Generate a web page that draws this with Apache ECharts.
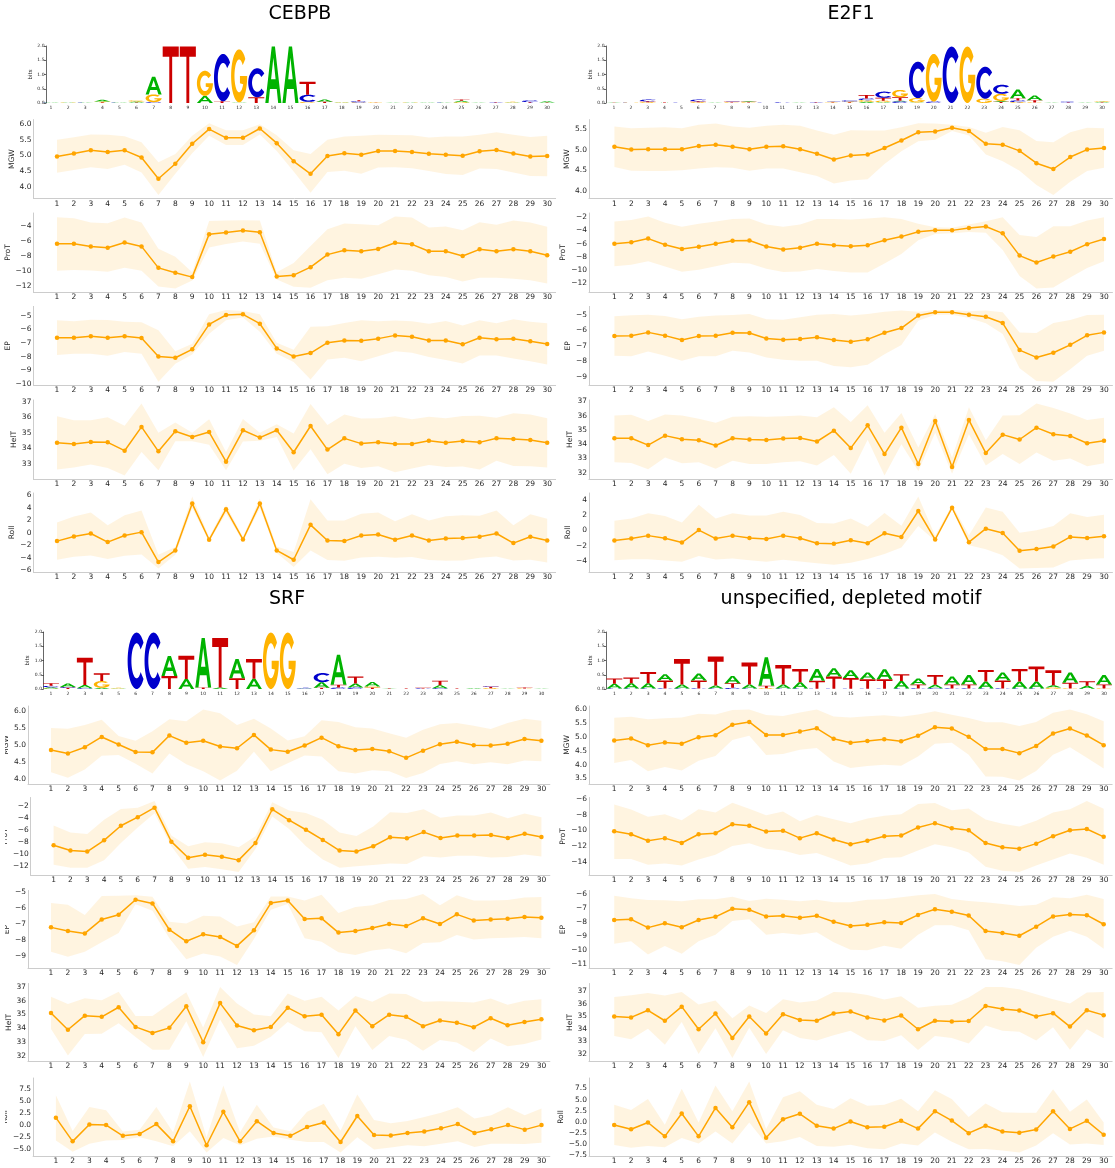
<!DOCTYPE html>
<html>
<head>
<meta charset="utf-8">
<script src="https://cdn.jsdelivr.net/npm/echarts@6/dist/echarts.min.js"></script>
<style>html,body{margin:0;padding:0;background:#fff}#chart{width:1115px;height:1168px}</style>
</head>
<body>
<div id="chart"></div>
<script>
// Positions along the 30-bp window
const POS = [1,2,3,4,5,6,7,8,9,10,11,12,13,14,15,16,17,18,19,20,21,22,23,24,25,26,27,28,29,30];
const FEATURES = ['MGW', 'ProT', 'EP', 'HelT', 'Roll'];
const MOTIFS = ['CEBPB', 'E2F1', 'SRF', 'unspecified, depleted motif'];
const LOGO_TICKS = [0, 0.5, 1, 1.5, 2];

// Sequence logos: per position, letters stacked bottom -> top as <letter><bits>
const LOGO_CEBPB = ['C.01 A.02','A.01 G.01','A.01 C.01','T.03 G.02 A.06','C.01 A.02','T.02 A.03 G.04','C.03 G.27 A.62','T1.98','T1.98','A.25 G.88','T.06 C1.66','A.02 G1.86','T.2 C1.02','A1.98','A1.98','G.04 C.25 T.46','T.04 A.08','A.02 G.01','G.02 C.04 T.04','T.01 G.02','A.01','A.01 G.01','A.02','A.01 C.01','G.03 A.05 T.04','A.01','T.02 C.01','A.02 G.02','T.03 C.06','T.02 A.04'];
const LOGO_E2F1 = ['A.01 T.01','C.01 G.01','G.03 T.03 C.06','T.02 A.01','C.01','G.03 T.03 C.06','A.01','G.02 T.02 C.01','G.02 T.02 A.02','C.01','C.02','A.01','T.02 C.01','T.02 G.02 C.01','T.03 G.02 C.04','A.04 G.06 C.06 T.12','A.03 G.05 T.10 C.22','C.06 A.02 T.12 G.26','A.02 G.15 C1.28','C.05 G1.67','C1.98','G1.98','G.15 C1.12','T.04 A.03 G.25 C.32','G.03 C.06 T.08 A.30','G.02 T.08 A.16','A.01','T.02 C.03','A.01','T.02 A.02 G.02'];
const LOGO_SRF = ['G.02 A.04 C.05 T.09','T.04 C.03 A.12','C.03 A.11 T.96','A.04 G.24 T.27','A.02 G.02','C1.98','C1.98','T.46 A.70','A.35 T.82','T.05 A1.74','A.05 T1.74','T.38 A.67','A.36 T.69','G1.98','G1.98','A.02 C.02','T.04 A.20 C.32','C.05 T.10 A1.05','C.05 A.14 T.25','T.05 G.04 A.16','A.01 T.02','T.02','C.02 T.02','C.03 A.10 T.16','T.02','A.03','G.03 T.05 C.02','A.01','G.02 T.03','A.01'];
const LOGO_UNSPEC = ['C.02 A.16 T.19','C.02 A.18 T.20','C.02 A.18 T.40','C.02 T.28 A.22','C.02 A.14 T.89','C.02 T.28 A.24','C.02 A.10 T1.02','C.04 T.16 A.26','C.02 A.14 T.77','G.03 T.08 A1.00','C.02 A.14 T.68','C.02 A.22 T.46','C.01 T.28 A.41','C.01 T.43 A.29','C.01 T.38 A.27','C.01 T.33 A.24','C.01 T.33 A.35','C.02 A.26 T.24','C.02 T.14 A.21','C.03 A.12 T.34','C.02 T.14 A.28','C.02 T.14 A.33','C.02 A.24 T.41','C.02 T.28 A.28','C.02 A.24 T.44','C.02 A.24 T.53','G.05 A.08 T.53','G.02 T.20 A.36','C.01 A.10 T.16','G.02 T.14 A.33'];

// ---- CEBPB shape profiles: mean, upper and lower band ----
const CEBPB_MGW = [4.96,5.06,5.16,5.11,5.16,4.93,4.25,4.73,5.37,5.84,5.56,5.56,5.86,5.39,4.81,4.41,4.98,5.07,5.02,5.14,5.14,5.11,5.05,5.02,4.99,5.13,5.17,5.06,4.96,4.98];
const CEBPB_MGW_HI = [5.50,5.58,5.67,5.66,5.61,5.42,4.78,5.04,5.63,6.03,5.80,5.80,6.00,5.64,5.16,5.04,5.50,5.60,5.63,5.66,5.65,5.64,5.57,5.60,5.60,5.66,5.74,5.66,5.59,5.63];
const CEBPB_MGW_LO = [4.44,4.53,4.62,4.56,4.70,4.45,3.73,4.41,5.07,5.63,5.33,5.33,5.67,5.14,4.48,3.80,4.47,4.51,4.41,4.61,4.62,4.59,4.50,4.40,4.37,4.58,4.56,4.45,4.34,4.33];
const CEBPB_PROT = [-6.37,-6.37,-6.73,-6.90,-6.20,-6.73,-9.58,-10.24,-10.81,-5.10,-4.88,-4.62,-4.84,-10.73,-10.55,-9.49,-7.82,-7.25,-7.38,-7.08,-6.24,-6.46,-7.38,-7.38,-8.00,-7.12,-7.38,-7.12,-7.38,-7.91];
const CEBPB_PROT_HI = [-2.86,-2.99,-3.56,-3.65,-2.90,-3.56,-7.03,-8.09,-10.15,-3.34,-3.30,-3.25,-3.30,-10.15,-8.92,-6.68,-4.44,-3.69,-3.78,-3.91,-2.77,-2.90,-4.22,-4.09,-4.57,-3.52,-3.87,-3.30,-3.56,-4.13];
const CEBPB_PROT_LO = [-9.98,-9.85,-9.93,-10.11,-9.58,-9.98,-12.04,-12.31,-11.25,-6.86,-6.42,-6.07,-6.37,-11.12,-12.09,-12.22,-11.21,-10.90,-11.03,-10.42,-9.80,-9.98,-10.55,-10.81,-11.38,-10.90,-10.90,-11.03,-11.21,-11.65];
const CEBPB_EP = [-6.60,-6.60,-6.50,-6.60,-6.50,-6.63,-7.98,-8.08,-7.46,-5.62,-4.93,-4.88,-5.57,-7.39,-7.98,-7.73,-6.97,-6.80,-6.82,-6.67,-6.43,-6.53,-6.80,-6.80,-7.09,-6.60,-6.72,-6.67,-6.87,-7.07];
const CEBPB_EP_HI = [-5.32,-5.39,-5.27,-5.30,-5.42,-5.47,-6.06,-7.59,-7.04,-4.88,-4.56,-4.63,-4.88,-6.97,-7.49,-5.79,-5.76,-5.52,-5.32,-5.39,-5.34,-5.39,-5.57,-5.37,-5.71,-5.32,-5.54,-5.25,-5.42,-5.54];
const CEBPB_EP_LO = [-7.88,-7.78,-7.78,-7.93,-7.66,-7.78,-9.85,-8.52,-7.83,-6.31,-5.32,-5.12,-6.16,-7.78,-8.40,-9.68,-8.20,-8.08,-8.33,-7.96,-7.59,-7.71,-8.03,-8.25,-8.50,-7.91,-7.91,-8.13,-8.33,-8.57];
const CEBPB_HELT = [34.36,34.28,34.41,34.38,33.84,35.38,33.80,35.10,34.73,35.05,33.13,35.16,34.69,35.16,33.74,35.44,33.91,34.64,34.30,34.38,34.28,34.28,34.49,34.36,34.47,34.38,34.64,34.60,34.54,34.36];
const CEBPB_HELT_HI = [36.07,35.81,35.81,36.01,35.46,36.89,35.01,35.66,35.01,35.88,33.76,35.90,35.01,35.55,34.95,36.87,35.51,36.18,35.92,35.94,36.07,35.88,36.03,35.94,36.09,36.11,35.98,36.26,36.18,35.94];
const CEBPB_HELT_LO = [32.63,32.76,32.94,32.72,32.24,33.76,32.57,34.45,34.45,34.23,32.57,34.43,34.49,34.73,32.55,33.93,32.31,33.00,32.72,32.83,32.44,32.68,32.91,32.78,32.81,32.63,33.19,32.85,32.83,32.76];
const CEBPB_ROLL = [-1.33,-0.59,-0.11,-1.49,-0.43,0.11,-4.69,-2.83,4.69,-1.12,3.79,-1.07,4.69,-2.83,-4.32,1.28,-1.23,-1.33,-0.43,-0.27,-1.12,-0.43,-1.23,-0.91,-0.85,-0.64,-0.11,-1.65,-0.64,-1.23];
const CEBPB_ROLL_HI = [1.65,2.61,3.25,1.23,2.83,3.57,-3.52,-2.29,5.81,-0.69,4.48,-0.69,5.49,-2.19,-3.09,5.39,1.97,1.97,3.04,3.25,1.87,2.99,1.97,2.67,2.83,2.72,3.57,1.23,2.99,2.24];
const CEBPB_ROLL_LO = [-4.32,-3.84,-3.63,-4.21,-3.68,-3.47,-5.71,-3.52,3.95,-1.39,3.15,-1.39,3.95,-3.25,-5.49,-2.83,-4.37,-4.48,-3.95,-3.84,-4.00,-3.89,-4.37,-4.48,-4.43,-4.00,-3.79,-4.43,-4.32,-4.75];

// ---- E2F1 ----
const E2F1_MGW = [5.07,5.00,5.01,5.01,5.01,5.09,5.12,5.07,5.01,5.07,5.08,5.01,4.90,4.76,4.86,4.88,5.04,5.22,5.42,5.44,5.53,5.45,5.14,5.12,4.97,4.67,4.53,4.82,5.00,5.04];
const E2F1_MGW_HI = [5.56,5.52,5.53,5.54,5.52,5.60,5.63,5.56,5.53,5.58,5.60,5.58,5.46,5.36,5.47,5.46,5.46,5.54,5.64,5.63,5.60,5.55,5.41,5.55,5.47,5.21,5.18,5.42,5.53,5.52];
const E2F1_MGW_LO = [4.58,4.49,4.48,4.48,4.50,4.54,4.57,4.56,4.49,4.54,4.54,4.45,4.36,4.18,4.25,4.28,4.65,4.96,5.20,5.24,5.45,5.34,4.88,4.72,4.49,4.14,3.90,4.22,4.48,4.56];
const E2F1_PROT = [-6.01,-5.76,-5.22,-6.16,-6.80,-6.46,-6.01,-5.56,-5.51,-6.41,-6.85,-6.60,-6.01,-6.21,-6.36,-6.21,-5.47,-4.92,-4.18,-3.98,-3.98,-3.63,-3.39,-4.43,-7.79,-8.83,-7.94,-7.20,-6.06,-5.27];
const E2F1_PROT_HI = [-2.64,-2.40,-1.90,-2.84,-3.44,-2.99,-2.64,-2.25,-2.20,-3.09,-3.44,-3.09,-2.25,-2.25,-2.35,-2.20,-2.00,-2.25,-2.99,-3.49,-3.58,-3.09,-2.59,-2.00,-4.67,-4.97,-3.34,-3.34,-2.50,-2.00];
const E2F1_PROT_LO = [-9.38,-9.18,-8.63,-9.43,-10.22,-9.92,-9.38,-8.88,-8.98,-9.77,-10.27,-10.17,-9.82,-10.12,-10.32,-10.32,-8.98,-7.54,-5.47,-4.52,-4.43,-4.23,-4.33,-6.95,-10.86,-12.74,-12.59,-11.11,-9.67,-8.63];
const E2F1_EP = [-6.38,-6.35,-6.14,-6.35,-6.63,-6.38,-6.35,-6.16,-6.18,-6.53,-6.61,-6.57,-6.46,-6.63,-6.74,-6.59,-6.16,-5.86,-5.06,-4.85,-4.85,-5.00,-5.13,-5.54,-7.28,-7.75,-7.45,-6.94,-6.33,-6.14];
const E2F1_EP_HI = [-5.11,-5.04,-5.00,-5.09,-5.30,-5.13,-5.06,-5.02,-4.96,-5.30,-5.32,-5.17,-5.00,-4.96,-5.06,-4.96,-4.81,-4.74,-4.81,-4.70,-4.70,-4.78,-4.74,-4.85,-6.14,-6.18,-5.54,-5.34,-5.02,-5.00];
const E2F1_EP_LO = [-7.65,-7.67,-7.37,-7.65,-7.97,-7.67,-7.67,-7.32,-7.43,-7.75,-7.90,-7.97,-7.97,-8.31,-8.38,-8.23,-7.54,-6.96,-5.39,-5.00,-5.00,-5.22,-5.56,-6.25,-8.44,-9.26,-9.32,-8.51,-7.65,-7.32];
const E2F1_HELT = [34.42,34.42,33.94,34.60,34.35,34.28,33.91,34.42,34.33,34.30,34.40,34.44,34.19,34.95,33.73,35.32,33.31,35.16,32.62,35.62,32.41,35.69,33.38,34.67,34.33,35.16,34.70,34.58,34.07,34.24];
const E2F1_HELT_HI = [36.00,36.06,35.62,36.08,36.00,35.78,35.50,35.92,35.96,35.92,35.96,36.00,35.89,36.59,35.55,36.72,34.81,36.19,33.77,36.12,33.08,36.59,34.28,36.00,36.03,36.84,36.54,36.15,35.69,35.85];
const E2F1_HELT_LO = [32.74,32.69,32.25,33.08,32.67,32.74,32.28,32.85,32.62,32.62,32.74,32.81,32.51,33.24,31.93,34.32,31.82,34.00,32.12,34.81,31.93,34.70,32.51,33.31,32.62,33.43,32.85,33.01,32.46,32.67];
const E2F1_ROLL = [-1.33,-1.08,-0.69,-1.03,-1.59,0.04,-1.08,-0.69,-0.99,-1.12,-0.69,-1.03,-1.68,-1.76,-1.29,-1.68,-0.39,-0.86,2.54,-1.20,2.97,-1.55,0.22,-0.34,-2.67,-2.45,-2.11,-0.86,-0.99,-0.77];
const E2F1_ROLL_HI = [1.25,1.55,2.24,1.89,1.03,3.35,1.55,2.24,1.94,1.94,2.45,2.02,0.95,0.90,1.55,0.47,2.28,0.60,4.43,-0.69,3.35,-0.65,3.01,2.45,-0.30,0.00,0.56,2.24,1.76,2.06];
const E2F1_ROLL_LO = [-3.91,-3.78,-3.78,-3.96,-4.13,-3.35,-3.83,-3.70,-3.91,-4.13,-3.87,-4.09,-4.30,-4.52,-4.26,-3.74,-3.10,-2.24,0.56,-1.38,2.71,-1.94,-2.49,-3.27,-4.99,-4.95,-4.86,-3.96,-3.74,-3.66];

// ---- SRF ----
const SRF_MGW = [4.86,4.76,4.94,5.24,5.02,4.80,4.79,5.28,5.07,5.13,4.96,4.91,5.30,4.87,4.81,4.99,5.22,4.97,4.86,4.89,4.82,4.63,4.84,5.03,5.10,5.00,4.99,5.04,5.18,5.13];
const SRF_MGW_HI = [5.50,5.48,5.59,5.74,5.27,5.13,5.41,5.76,5.70,6.04,5.93,5.59,5.77,5.49,5.14,5.26,5.73,5.68,5.52,5.49,5.35,5.22,5.45,5.61,5.65,5.57,5.47,5.65,5.77,5.71];
const SRF_MGW_LO = [4.21,4.05,4.29,4.69,4.71,4.46,4.17,4.76,4.44,4.24,3.97,4.25,4.81,4.24,4.47,4.70,4.67,4.24,4.17,4.27,4.24,4.04,4.19,4.45,4.53,4.44,4.50,4.44,4.55,4.53];
const SRF_PROT = [-8.59,-9.47,-9.64,-7.77,-5.35,-3.92,-2.33,-7.99,-10.68,-10.19,-10.52,-11.07,-8.21,-2.60,-4.42,-6.01,-7.71,-9.47,-9.64,-8.76,-7.27,-7.44,-6.40,-7.38,-6.95,-6.95,-6.89,-7.38,-6.67,-7.22];
const SRF_PROT_HI = [-5.30,-6.45,-6.73,-4.36,-2.55,-2.33,-1.23,-6.95,-8.76,-8.10,-8.27,-8.92,-7.11,-1.45,-2.82,-3.21,-4.36,-6.45,-7.05,-5.46,-3.10,-3.21,-2.60,-4.00,-3.65,-3.65,-3.15,-4.09,-3.32,-3.92];
const SRF_PROT_LO = [-11.84,-12.33,-12.33,-11.07,-8.21,-5.63,-3.26,-8.76,-12.49,-12.22,-12.60,-13.04,-9.20,-3.81,-5.90,-8.76,-10.96,-12.33,-12.11,-11.89,-11.62,-11.73,-10.41,-10.63,-10.35,-10.35,-10.63,-10.57,-10.13,-10.46];
const SRF_EP = [-7.20,-7.43,-7.58,-6.70,-6.40,-5.46,-5.69,-7.35,-8.08,-7.64,-7.81,-8.37,-7.39,-5.67,-5.50,-6.68,-6.63,-7.53,-7.43,-7.24,-6.99,-7.12,-6.63,-6.99,-6.38,-6.76,-6.70,-6.65,-6.55,-6.59];
const SRF_EP_HI = [-5.67,-5.77,-6.42,-5.23,-5.21,-5.17,-5.27,-6.84,-6.95,-6.47,-6.51,-7.14,-6.88,-5.25,-5.25,-5.50,-5.15,-6.30,-5.92,-5.80,-5.48,-5.42,-5.10,-5.80,-5.17,-5.50,-5.50,-5.48,-5.31,-5.29];
const SRF_EP_LO = [-8.73,-9.06,-8.73,-8.14,-7.55,-5.75,-6.15,-7.89,-9.21,-8.85,-9.04,-9.57,-7.93,-6.09,-5.73,-7.89,-8.10,-8.77,-8.94,-8.66,-8.54,-8.83,-8.18,-8.14,-7.68,-7.97,-7.89,-7.85,-7.81,-7.89];
const SRF_HELT = [35.11,33.89,34.92,34.83,35.53,34.10,33.66,34.03,35.60,32.98,35.83,34.20,33.85,34.10,35.50,34.87,34.99,33.57,35.29,34.15,34.99,34.83,34.15,34.57,34.41,34.08,34.73,34.22,34.45,34.66];
const SRF_HELT_HI = [36.30,35.76,36.18,36.04,36.65,34.90,34.90,35.76,36.63,34.06,37.00,35.81,35.01,34.87,36.53,36.00,36.30,35.29,36.35,35.93,36.53,36.49,35.93,35.97,35.93,35.88,36.16,35.71,36.00,36.11];
const SRF_HELT_LO = [33.94,32.02,33.59,33.61,34.36,33.36,32.44,32.44,34.52,31.91,34.64,32.54,32.72,33.38,34.45,33.78,33.71,31.84,34.15,32.42,33.43,33.17,32.37,33.14,32.96,32.28,33.26,32.70,32.86,33.19];
const SRF_ROLL = [1.50,-3.48,0.07,-0.07,-2.32,-1.91,0.14,-3.48,3.89,-4.30,2.73,-3.48,0.75,-1.71,-2.32,-0.48,0.48,-3.62,1.84,-2.12,-2.25,-1.71,-1.43,-0.75,0.14,-1.71,-0.96,-0.07,-1.02,-0.07];
const SRF_ROLL_HI = [6.22,-1.30,3.76,3.07,-1.43,-1.02,3.76,-1.57,9.08,-2.60,8.27,-1.57,4.23,-0.55,-1.37,2.73,4.44,-1.23,6.35,1.02,0.34,0.82,1.64,2.53,3.69,1.30,1.98,3.69,1.98,3.42];
const SRF_ROLL_LO = [-3.28,-5.67,-3.96,-3.28,-3.21,-2.60,-3.48,-4.51,-1.37,-5.81,-2.80,-4.30,-2.94,-2.46,-3.14,-3.62,-3.62,-5.81,-2.60,-5.19,-4.78,-4.30,-4.51,-3.96,-3.48,-4.64,-3.96,-3.96,-4.03,-3.76];

// ---- unspecified, depleted motif ----
const UNSPEC_MGW = [4.88,4.95,4.71,4.81,4.76,5.00,5.07,5.45,5.55,5.08,5.08,5.20,5.32,4.94,4.80,4.86,4.92,4.85,5.05,5.36,5.31,5.01,4.57,4.57,4.42,4.68,5.13,5.31,5.06,4.71];
const UNSPEC_MGW_HI = [5.70,5.74,5.65,5.68,5.71,5.85,5.82,5.98,6.00,5.80,5.77,5.89,6.00,5.75,5.71,5.76,5.79,5.74,5.82,5.94,5.81,5.69,5.54,5.54,5.40,5.55,5.88,6.00,5.83,5.58];
const UNSPEC_MGW_LO = [4.06,4.17,3.76,3.92,3.79,4.14,4.32,4.90,5.05,4.35,4.39,4.54,4.61,4.12,3.88,3.95,4.00,3.96,4.30,4.76,4.80,4.36,3.57,3.56,3.43,3.77,4.36,4.63,4.25,3.86];
const UNSPEC_PROT = [-10.10,-10.48,-11.31,-10.98,-11.61,-10.48,-10.35,-9.18,-9.39,-10.14,-10.02,-10.98,-10.35,-11.15,-11.77,-11.31,-10.73,-10.64,-9.60,-9.05,-9.72,-9.97,-11.61,-12.15,-12.36,-11.69,-10.73,-9.97,-9.81,-10.81];
const UNSPEC_PROT_HI = [-6.67,-7.30,-8.22,-7.92,-8.68,-7.26,-7.67,-6.42,-7.21,-8.05,-7.55,-8.80,-8.01,-8.55,-9.05,-8.47,-8.09,-7.92,-6.59,-6.46,-7.38,-7.17,-8.59,-9.14,-9.47,-8.76,-7.67,-7.26,-6.21,-7.21];
const UNSPEC_PROT_LO = [-13.66,-13.66,-14.41,-14.24,-14.49,-13.74,-13.11,-11.98,-11.65,-12.36,-12.57,-13.15,-12.90,-13.66,-14.49,-14.24,-13.53,-13.45,-12.57,-11.77,-12.15,-12.82,-14.66,-15.16,-15.33,-14.49,-13.74,-12.95,-13.49,-14.41];
const UNSPEC_EP = [-7.86,-7.81,-8.40,-8.09,-8.37,-7.86,-7.63,-7.05,-7.12,-7.60,-7.56,-7.70,-7.56,-7.98,-8.28,-8.19,-8.02,-8.07,-7.49,-7.09,-7.26,-7.53,-8.65,-8.79,-8.98,-8.33,-7.60,-7.47,-7.51,-8.16];
const UNSPEC_EP_HI = [-6.12,-6.30,-6.42,-6.44,-6.51,-6.37,-6.37,-6.19,-6.49,-6.33,-6.40,-6.51,-6.40,-6.58,-6.58,-6.40,-6.37,-6.23,-6.09,-6.00,-6.35,-6.49,-6.58,-6.72,-6.86,-6.77,-6.23,-6.30,-6.05,-6.35];
const UNSPEC_EP_LO = [-9.56,-9.37,-10.33,-9.72,-10.26,-9.37,-8.91,-7.93,-7.81,-8.91,-8.79,-8.91,-8.74,-9.44,-9.98,-10.02,-9.70,-9.91,-8.91,-8.23,-8.23,-8.58,-10.67,-10.81,-11.07,-9.84,-9.05,-8.63,-9.05,-9.91];
const UNSPEC_HELT = [34.98,34.91,35.48,34.64,35.77,33.96,35.22,33.26,34.98,33.62,35.17,34.70,34.64,35.22,35.38,34.91,34.67,35.06,33.96,34.64,34.59,34.62,35.82,35.59,35.46,34.98,35.25,34.17,35.48,35.09];
const UNSPEC_HELT_HI = [36.55,36.69,36.87,36.66,36.95,35.95,36.27,34.85,35.87,35.27,36.37,36.11,36.27,36.95,36.90,36.71,36.35,36.61,35.69,35.85,35.93,36.50,37.34,37.34,37.16,36.76,36.37,36.03,36.90,36.95];
const UNSPEC_HELT_LO = [33.41,33.16,33.99,32.71,34.54,31.97,34.04,31.66,34.07,31.97,33.88,33.26,33.05,33.47,33.83,33.07,33.02,33.47,32.29,33.41,33.26,32.81,34.25,33.83,33.75,33.05,34.12,32.31,33.96,33.23];
const UNSPEC_ROLL = [-0.72,-1.67,-0.14,-3.26,1.88,-3.26,3.12,-1.23,4.42,-3.55,0.58,1.81,-0.87,-1.52,0.07,-1.23,-1.09,0.22,-1.52,2.39,0.29,-2.54,-0.87,-2.17,-2.46,-1.74,2.39,-1.59,0.22,-2.90];
const UNSPEC_ROLL_HI = [3.84,2.68,5.14,-0.65,7.46,-0.14,8.19,2.39,9.06,-1.59,5.51,6.88,3.84,2.90,5.29,3.62,3.84,5.22,2.39,7.10,5.14,1.09,4.13,2.17,2.03,2.03,7.32,2.25,5.00,-0.14];
const UNSPEC_ROLL_LO = [-5.22,-5.80,-5.43,-5.72,-3.62,-4.86,-2.17,-4.86,-0.14,-4.86,-4.35,-3.41,-5.43,-5.58,-5.14,-5.94,-6.16,-4.86,-5.29,-2.39,-4.49,-6.16,-6.09,-6.45,-6.88,-5.29,-2.54,-5.07,-4.86,-5.22];

// y-axis tick labels, one list per feature row (MGW, ProT, EP, HelT, Roll)
const TICKS_CEBPB = [[4,4.5,5,5.5,6],[-12,-10,-8,-6,-4],[-10,-9,-8,-7,-6,-5],[33,34,35,36,37],[-6,-4,-2,0,2,4,6]];
const TICKS_E2F1 = [[4,4.5,5,5.5],[-12,-10,-8,-6,-4,-2],[-9,-8,-7,-6,-5],[32,33,34,35,36,37],[-4,-2,0,2,4]];
const TICKS_SRF = [[4,4.5,5,5.5,6],[-12,-10,-8,-6,-4,-2],[-9,-8,-7,-6,-5],[32,33,34,35,36,37],[-5,-2.5,0,2.5,5,7.5]];
const TICKS_UNSPEC = [[3.5,4,4.5,5,5.5,6],[-14,-12,-10,-8,-6],[-11,-10,-9,-8,-7,-6],[32,33,34,35,36,37],[-7.5,-5,-2.5,0,2.5,5,7.5]];

// ---------------------------------------------------------------------------
const PROFILES = [
  [[CEBPB_MGW,CEBPB_MGW_LO,CEBPB_MGW_HI],[CEBPB_PROT,CEBPB_PROT_LO,CEBPB_PROT_HI],[CEBPB_EP,CEBPB_EP_LO,CEBPB_EP_HI],[CEBPB_HELT,CEBPB_HELT_LO,CEBPB_HELT_HI],[CEBPB_ROLL,CEBPB_ROLL_LO,CEBPB_ROLL_HI]],
  [[E2F1_MGW,E2F1_MGW_LO,E2F1_MGW_HI],[E2F1_PROT,E2F1_PROT_LO,E2F1_PROT_HI],[E2F1_EP,E2F1_EP_LO,E2F1_EP_HI],[E2F1_HELT,E2F1_HELT_LO,E2F1_HELT_HI],[E2F1_ROLL,E2F1_ROLL_LO,E2F1_ROLL_HI]],
  [[SRF_MGW,SRF_MGW_LO,SRF_MGW_HI],[SRF_PROT,SRF_PROT_LO,SRF_PROT_HI],[SRF_EP,SRF_EP_LO,SRF_EP_HI],[SRF_HELT,SRF_HELT_LO,SRF_HELT_HI],[SRF_ROLL,SRF_ROLL_LO,SRF_ROLL_HI]],
  [[UNSPEC_MGW,UNSPEC_MGW_LO,UNSPEC_MGW_HI],[UNSPEC_PROT,UNSPEC_PROT_LO,UNSPEC_PROT_HI],[UNSPEC_EP,UNSPEC_EP_LO,UNSPEC_EP_HI],[UNSPEC_HELT,UNSPEC_HELT_LO,UNSPEC_HELT_HI],[UNSPEC_ROLL,UNSPEC_ROLL_LO,UNSPEC_ROLL_HI]]
];
const LOGOS = [LOGO_CEBPB, LOGO_E2F1, LOGO_SRF, LOGO_UNSPEC];
const TICKS = [TICKS_CEBPB, TICKS_E2F1, TICKS_SRF, TICKS_UNSPEC];

// Page layout in px: title centre, logo axes (spine x, x of pos 1, x of pos 30, top, bottom),
// profile axes (spine x, x of pos 1, x of pos 30), the bottom edge of each profile row,
// and the left edge at which the panel's artwork is cut off.
const LAYOUT = [
  {title: [300, 15], logo: [46, 51, 547, 46, 103], plot: [33.4, 57, 547.2], bottoms: [198.6, 292, 385.4, 479, 572], h: 79, cut: 0},
  {title: [851, 15], logo: [606, 614, 1102, 46, 103], plot: [589, 614.4, 1104], bottoms: [198.6, 292, 385.4, 479, 572], h: 79, cut: 0},
  {title: [287, 600], logo: [43.5, 51, 541.5, 632, 689], plot: [28, 51, 541.4], bottoms: [784, 875.5, 968.5, 1061.5, 1156], h: 78, cut: 5},
  {title: [851, 600], logo: [606, 614.4, 1104, 632, 689], plot: [589, 614.2, 1103.7], bottoms: [784, 875.5, 968.5, 1061.5, 1156], h: 78, cut: 0}
];

const FONT = 'DejaVu Sans';
const TICK_SIZE = 7.5;
const TEXT = '#262626';
const SPINE = '#cccccc';
const LINE = '#ffa500';
const BAND = 'rgba(255,165,0,0.12)';
const LETTERS = ['A', 'C', 'G', 'T'];
const LETTER_COLORS = ['#00b300', '#0000cc', '#ffb300', '#cc0000'];

// Block glyph outlines in a 100x100 box
function ring(cx, cy, rx, ry, a0, a1, step) {
  const pts = [];
  const n = Math.max(1, Math.round(Math.abs(a1 - a0) / step));
  for (let i = 0; i <= n; i++) {
    const a = (a0 + (a1 - a0) * i / n) * Math.PI / 180;
    pts.push([cx + rx * Math.cos(a), cy - ry * Math.sin(a)]);
  }
  return pts;
}
function toPath(pts) {
  return 'M' + pts.map(p => p[0].toFixed(2) + ' ' + p[1].toFixed(2)).join(' L') + ' Z';
}
const GLYPH_A = 'M0 100 L40 0 L60 0 L100 100 L80 100 L71 75 L29 75 L20 100 Z M36 58 L64 58 L50 20 Z';
const GLYPH_T = 'M0 0 L100 0 L100 18 L59 18 L59 100 L41 100 L41 18 L0 18 Z';
const GLYPH_C = toPath(ring(50, 50, 50, 50, 40, 320, 5).concat(ring(50, 50, 29, 31, 320, 40, 5)));
const GLYPH_G = toPath(ring(50, 50, 50, 50, 40, 360, 5).concat([[100, 50], [55, 50], [55, 64]], ring(50, 50, 29, 31, 330, 40, 5)));
const GLYPHS = [GLYPH_A, GLYPH_C, GLYPH_G, GLYPH_T];

function parseLogo(cols) {
  const out = [];
  cols.forEach((col, i) => {
    let base = 0;
    col.split(' ').forEach(tok => {
      const li = LETTERS.indexOf(tok[0]);
      const h = parseFloat(tok.slice(1));
      out.push([POS[i], base, base + h, li]);
      base += h;
    });
  });
  return out;
}

const measure = document.createElement('canvas').getContext('2d');
measure.font = TICK_SIZE + 'px "' + FONT + '"';
function fmt(v, dec) {
  const s = Math.abs(v).toFixed(dec);
  return (v < 0 ? '\u2212' : '') + s;
}

const grids = [], xAxes = [], yAxes = [], series = [], titles = [], graphics = [];

MOTIFS.forEach((name, p) => {
  const L = LAYOUT[p];
  titles.push({
    text: name, left: L.title[0], top: L.title[1] - 10, textAlign: 'center', padding: 0,
    textStyle: {fontFamily: FONT, fontSize: 19, fontWeight: 'normal', color: '#000'}
  });

  // sequence logo
  {
    const [spine, x1, x30, top, bottom] = L.logo;
    const unit = (x30 - x1) / 29;
    const k = grids.length;
    grids.push({left: spine, top: top, width: x30 + unit / 2 - spine, height: bottom - top});
    xAxes.push({
      type: 'value', gridIndex: k, min: 1 - (x1 - spine) / unit, max: 30.5,
      axisLine: {show: false}, axisTick: {show: false}, splitLine: {show: false},
      axisLabel: {customValues: POS, fontSize: 4.5, color: TEXT, fontFamily: FONT, margin: 2}
    });
    yAxes.push({
      type: 'value', gridIndex: k, min: 0, max: 2, name: 'bits', nameLocation: 'middle', nameRotate: 90, nameGap: 11,
      nameTextStyle: {fontSize: 5.5, color: TEXT, fontFamily: FONT},
      axisLine: {show: true, onZero: false, lineStyle: {color: '#000', width: 0.6}},
      axisTick: {show: true, length: 2, customValues: LOGO_TICKS, lineStyle: {color: '#000', width: 0.6}},
      splitLine: {show: false},
      axisLabel: {customValues: LOGO_TICKS, formatter: v => v.toFixed(1), fontSize: 4.5, color: TEXT, fontFamily: FONT, margin: 1.5}
    });
    series.push({
      type: 'custom', xAxisIndex: k, yAxisIndex: k, silent: true, animation: false,
      data: parseLogo(LOGOS[p]), encode: {x: 0, y: [1, 2]},
      renderItem: (params, api) => {
        const pos = api.value(0), y0 = api.value(1), y1 = api.value(2), li = api.value(3);
        const a = api.coord([pos - 0.47, y1]);
        const b = api.coord([pos + 0.47, y0]);
        return {
          type: 'path',
          shape: {pathData: GLYPHS[li], x: a[0], y: a[1], width: b[0] - a[0], height: Math.max(0.2, b[1] - a[1]), layout: 'cover'},
          style: {fill: LETTER_COLORS[li]}
        };
      }
    });
  }

  // shape feature profiles
  const [spine, x1, x30] = L.plot;
  const unit = (x30 - x1) / 29;
  FEATURES.forEach((feat, r) => {
    const [mean, lo, hi] = PROFILES[p][r];
    const ticks = TICKS[p][r];
    const vmin = Math.min(...lo, ...mean), vmax = Math.max(...hi, ...mean);
    const pad = (vmax - vmin) * 0.05;
    const ymin = vmin - pad, ymax = vmax + pad;
    const shown = ticks.filter(t => t >= ymin && t <= ymax);
    const dec = ticks.some(t => Math.round(t) !== t) ? 1 : 0;
    const widest = Math.max(...shown.map(t => measure.measureText(fmt(t, dec)).width));
    const k = grids.length;
    grids.push({left: spine, top: L.bottoms[r] - L.h, width: x30 + unit / 2 - spine, height: L.h});
    xAxes.push({
      type: 'value', gridIndex: k, min: 1 - (x1 - spine) / unit, max: 30.5,
      axisLine: {show: true, onZero: false, lineStyle: {color: SPINE, width: 1}},
      axisTick: {show: false}, splitLine: {show: false},
      axisLabel: {customValues: POS, fontSize: TICK_SIZE, color: TEXT, fontFamily: FONT, margin: 1}
    });
    yAxes.push({
      type: 'value', gridIndex: k, min: ymin, max: ymax,
      name: feat, nameLocation: 'middle', nameRotate: 90, nameGap: 2 + widest + 2,
      nameTextStyle: {fontSize: TICK_SIZE, color: TEXT, fontFamily: FONT},
      axisLine: {show: true, onZero: false, lineStyle: {color: SPINE, width: 1}},
      axisTick: {show: false}, splitLine: {show: false},
      axisLabel: {customValues: shown, formatter: v => fmt(v, dec), fontSize: TICK_SIZE, color: TEXT, fontFamily: FONT, margin: 2}
    });
    series.push({
      type: 'custom', xAxisIndex: k, yAxisIndex: k, silent: true, animation: false, z: 1,
      data: [[POS[0], lo[0]]],
      renderItem: (params, api) => {
        const pts = [];
        for (let i = 0; i < POS.length; i++) pts.push(api.coord([POS[i], hi[i]]));
        for (let i = POS.length - 1; i >= 0; i--) pts.push(api.coord([POS[i], lo[i]]));
        return {type: 'polygon', shape: {points: pts}, style: {fill: BAND}};
      }
    });
    series.push({
      type: 'line', xAxisIndex: k, yAxisIndex: k, silent: true, animation: false, z: 3,
      data: POS.map((x, i) => [x, mean[i]]),
      symbol: 'circle', symbolSize: 4.5, showSymbol: true,
      itemStyle: {color: LINE}, lineStyle: {color: LINE, width: 1.5}
    });
  });

  // panel artwork cut off at its left edge
  if (L.cut > 0) {
    const top = L.bottoms[0] - L.h - 10;
    graphics.push({type: 'rect', left: 0, top: top, z: 100, silent: true,
      shape: {width: L.cut, height: L.bottoms[4] + 20 - top}, style: {fill: '#ffffff'}});
  }
});

const chart = echarts.init(document.getElementById('chart'), null, {renderer: 'canvas'});
chart.setOption({
  animation: false,
  backgroundColor: '#ffffff',
  title: titles,
  grid: grids,
  xAxis: xAxes,
  yAxis: yAxes,
  series: series,
  graphic: graphics
});
</script>
</body>
</html>
